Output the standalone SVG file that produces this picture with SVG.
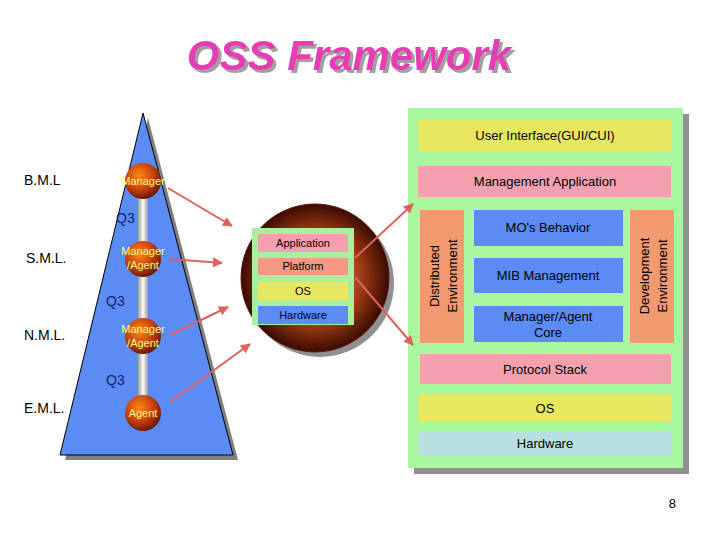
<svg xmlns="http://www.w3.org/2000/svg" width="720" height="540" viewBox="0 0 720 540">
<defs>
<radialGradient id="ball" cx="40%" cy="35%" r="65%"><stop offset="0" stop-color="#ff8a1a"/><stop offset="0.6" stop-color="#c8400a"/><stop offset="1" stop-color="#6a1a05"/></radialGradient>
<radialGradient id="disc" cx="50%" cy="50%" r="50%"><stop offset="0" stop-color="#e8a070"/><stop offset="0.65" stop-color="#9a3a12"/><stop offset="1" stop-color="#3a0a02"/></radialGradient>
<linearGradient id="pole" x1="0" x2="1"><stop offset="0" stop-color="#999"/><stop offset="0.5" stop-color="#fff"/><stop offset="1" stop-color="#999"/></linearGradient>
<filter id="sh" x="-10%" y="-30%" width="120%" height="160%"><feDropShadow dx="3" dy="3" stdDeviation="0.5" flood-color="#a0a0a0"/></filter>
<marker id="ah" viewBox="0 0 10 10" refX="9" refY="5" markerWidth="5" markerHeight="5" orient="auto"><path d="M0,0L10,5L0,10z" fill="#e06060"/></marker>
</defs>
<style>
text{font-family:"Liberation Sans",Arial,sans-serif}
.lvl{font-size:14px;fill:#000}
.q{font-size:14px;fill:#10206a}
.bt{font-size:11px;fill:#ffff80;text-anchor:middle}
.st{font-size:11px;fill:#000;text-anchor:middle}
.pt{font-size:13px;fill:#000;text-anchor:middle}
.con{stroke:#e06060;stroke-width:2;fill:none;marker-end:url(#ah)}
</style>
<rect width="720" height="540" fill="#fff"/>
<text x="349" y="70" font-size="42" font-weight="bold" font-style="italic" text-anchor="middle" fill="#e63cb4" filter="url(#sh)">OSS Framework</text>

<g id="pyramid">
<polygon points="148,118 238,460 65,460" fill="#808080"/>
<polygon points="143,113 233,455 60,455" fill="#5b8cf5" stroke="#000" stroke-width="1"/>
<rect x="138" y="181" width="10" height="232" fill="url(#pole)"/>
<text class="lvl" x="24" y="185">B.M.L</text>
<text class="lvl" x="26" y="263">S.M.L.</text>
<text class="lvl" x="24" y="340">N.M.L.</text>
<text class="lvl" x="24" y="413">E.M.L.</text>
<text class="q" x="116" y="223">Q3</text>
<text class="q" x="106" y="306">Q3</text>
<text class="q" x="106" y="385">Q3</text>
</g>
<g id="n-bml"><circle cx="143" cy="181" r="18" fill="url(#ball)"/><text class="bt" x="143" y="185">Manager</text></g>
<g id="n-sml"><circle cx="143" cy="259" r="18" fill="url(#ball)"/><text class="bt" x="143" y="255">Manager</text><text class="bt" x="143" y="269">/Agent</text></g>
<g id="n-nml"><circle cx="143" cy="336" r="18" fill="url(#ball)"/><text class="bt" x="143" y="333">Manager</text><text class="bt" x="143" y="347">/Agent</text></g>
<g id="n-eml"><circle cx="143" cy="413" r="18" fill="url(#ball)"/><text class="bt" x="143" y="417">Agent</text></g>

<g id="platform">
<circle cx="320" cy="283" r="74" fill="#909090"/>
<circle cx="315" cy="278" r="74" fill="url(#disc)" stroke="#5a1a05"/>
<rect x="252" y="228" width="102" height="97" fill="#a8f0a0"/>
<rect x="258" y="234" width="90" height="18" fill="#f4a0b0"/><text class="st" x="303" y="247">Application</text>
<rect x="258" y="258" width="90" height="17" fill="#f49a80"/><text class="st" x="303" y="270">Platform</text>
<rect x="258" y="282" width="90" height="18" fill="#e8e860"/><text class="st" x="303" y="295">OS</text>
<rect x="258" y="306" width="90" height="18" fill="#5b8cf5"/><text class="st" x="303" y="319">Hardware</text>
</g>

<g id="framework">
<rect x="414" y="114" width="275" height="360" fill="#909090"/>
<rect x="408" y="108" width="275" height="360" fill="#a8f8a0"/>
<rect x="418" y="120" width="253" height="31" fill="#e8e860"/><text class="pt" x="545" y="140">User Interface(GUI/CUI)</text>
<rect x="418" y="166" width="253" height="31" fill="#f4a0b0"/><text class="pt" x="545" y="186">Management Application</text>
<rect x="420" y="210" width="44" height="133" fill="#f49a70"/>
<text class="pt" transform="translate(439,276) rotate(-90)">Distributed</text>
<text class="pt" transform="translate(457,276) rotate(-90)">Environment</text>
<rect x="474" y="210" width="149" height="36" fill="#5b8cf5"/><text class="pt" x="548" y="232">MO's Behavior</text>
<rect x="474" y="258" width="149" height="35" fill="#5b8cf5"/><text class="pt" x="548" y="280">MIB Management</text>
<rect x="474" y="306" width="149" height="36" fill="#5b8cf5"/><text class="pt" x="548" y="321">Manager/Agent</text><text class="pt" x="548" y="337">Core</text>
<rect x="630" y="210" width="44" height="133" fill="#f49a70"/>
<text class="pt" transform="translate(649,276) rotate(-90)">Development</text>
<text class="pt" transform="translate(667,276) rotate(-90)">Environment</text>
<rect x="420" y="354" width="251" height="30" fill="#f4a0b0"/><text class="pt" x="545" y="374">Protocol Stack</text>
<rect x="418" y="394" width="253" height="28" fill="#e8e860"/><text class="pt" x="545" y="413">OS</text>
<rect x="418" y="431" width="253" height="25" fill="#b8e0e0"/><text class="pt" x="545" y="448">Hardware</text>
</g>

<g id="connectors">
<line class="con" x1="168" y1="188" x2="232" y2="226"/>
<line class="con" x1="170" y1="259" x2="222" y2="263"/>
<line class="con" x1="170" y1="335" x2="228" y2="307"/>
<line class="con" x1="170" y1="402" x2="250" y2="344"/>
<line class="con" x1="355" y1="258" x2="413" y2="204"/>
<line class="con" x1="355" y1="277" x2="413" y2="345"/>
</g>
<text x="676" y="508" font-size="13" text-anchor="end">8</text>
</svg>
